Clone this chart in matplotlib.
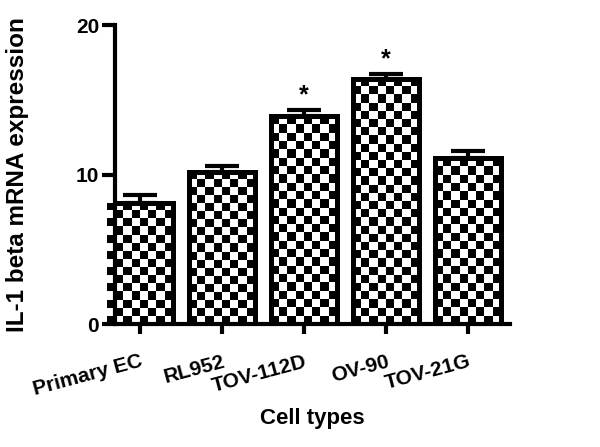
import numpy as np
import matplotlib
matplotlib.use("Agg")
import matplotlib.pyplot as plt

plt.rcParams['font.family'] = ['Liberation Sans', 'DejaVu Sans']
plt.rcParams['font.weight'] = 'bold'

cell_types = ["Primary EC", "RL952", "TOV-112D", "OV-90", "TOV-21G"]
expression = [8.1, 10.2, 13.9, 16.4, 11.1]
sem = [0.5, 0.4, 0.4, 0.3, 0.5]
significant = [False, False, True, True, False]

fig = plt.figure(figsize=(6, 4.47), dpi=100)
ax = fig.add_axes([0.192, 0.275, 0.658, 0.669])

x = np.arange(len(cell_types))
bars = ax.bar(x, expression, width=0.8, facecolor='none', edgecolor='black',
              linewidth=3.6, zorder=3)
ax.errorbar(x, expression, yerr=[[0] * len(sem), sem], fmt='none', ecolor='black',
            elinewidth=3, capsize=12, capthick=3, zorder=2)

ax.set_xlim(-0.305, 4.51)
ax.set_ylim(0, 20)

# checkerboard fill, clipped to each bar
fig.canvas.draw()
for bar in bars:
    x0, y0 = bar.get_x(), bar.get_y()
    w, h = bar.get_width(), bar.get_height()
    p0 = ax.transData.transform((x0, y0))
    p1 = ax.transData.transform((x0 + w, y0 + h))
    nx = max(1, int(round((p1[0] - p0[0]) / 8.2)))
    ny = max(1, int(round((p1[1] - p0[1]) / 8.2)))
    ii, jj = np.indices((ny, nx))
    board = (ii + jj) % 2
    im = ax.imshow(board, extent=[x0, x0 + w, y0, y0 + h], cmap='gray',
                   interpolation='nearest', aspect='auto', origin='lower', zorder=1)
    im.set_clip_path(bar)

for xi, yi, e, s in zip(x, expression, sem, significant):
    if s:
        ax.text(xi, yi + e + 0.2, "*", ha='center', va='bottom', fontsize=18,
                fontweight='bold')

ax.set_xlim(-0.305, 4.51)
ax.set_ylim(0, 20)
ax.set_yticks([0, 10, 20])
ax.set_xticks(x)
ax.set_xticklabels(cell_types, rotation=15, ha='right', rotation_mode='anchor',
                   fontsize=15, fontweight='bold')
ax.tick_params(axis='y', labelsize=15, width=3, length=9.5, pad=2)
ax.tick_params(axis='x', width=3, length=7, pad=13)
for lab in ax.get_yticklabels():
    lab.set_fontweight('bold')

ax.spines['top'].set_visible(False)
ax.spines['right'].set_visible(False)
ax.spines['left'].set_linewidth(3)
ax.spines['bottom'].set_linewidth(3)

ax.set_ylabel("IL-1 beta mRNA expression", fontsize=17.5, fontweight='bold', labelpad=34)
ax.set_xlabel("Cell types", fontsize=16, fontweight='bold', labelpad=6)

fig.savefig("out.png", dpi=100)
